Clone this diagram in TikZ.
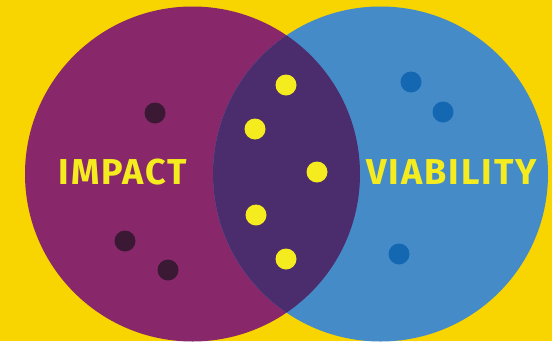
\documentclass[tikz,border=0pt]{standalone}
\usepackage{fontspec}
\setmainfont{Fira Sans}
\newfontfamily\labelfont[LetterSpace=5.5]{Fira Sans}
\definecolor{bgyellow}{HTML}{F8D400}
\definecolor{impactpurple}{HTML}{88286A}
\definecolor{overlap}{HTML}{4B2C6C}
\definecolor{viablue}{HTML}{458BC8}
\definecolor{darkdot}{HTML}{3B1934}
\definecolor{yellowdot}{HTML}{F4EC1E}
\definecolor{bluedot}{HTML}{1467B1}
\begin{document}
\begin{tikzpicture}[x=1pt,y=-1pt,
    dot/.style={circle,inner sep=0pt,minimum size=21pt},
    label/.style={text=yellowdot,font=\labelfont\fontsize{36}{36}\selectfont\bfseries}]
            \useasboundingbox (0,0) rectangle (552,341);
            \clip (0,0) rectangle (552,341);
            \fill [bgyellow] (0,0) rectangle (552,341);
            \pgfmathsetmacro{\r}{167.5};
            \fill [impactpurple] (192.5,174) circle (\r);
            \fill [viablue] (380.5,174) circle (\r);
            \begin{scope}
                \clip (192.5,174) circle (\r);
                \fill [overlap] (380.5,174) circle (\r);
            \end{scope}
            \node [dot,fill=darkdot] (d1) at (155,113) {};
            \node [dot,fill=darkdot] (d2) at (125,241) {};
            \node [dot,fill=darkdot] (d3) at (168,270) {};
            \node [dot,fill=yellowdot] (y1) at (286,85) {};
            \node [dot,fill=yellowdot] (y2) at (255,129) {};
            \node [dot,fill=yellowdot] (y3) at (317,172) {};
            \node [dot,fill=yellowdot] (y4) at (256,215) {};
            \node [dot,fill=yellowdot] (y5) at (286,259) {};
            \node [dot,fill=bluedot] (b1) at (411,82) {};
            \node [dot,fill=bluedot] (b2) at (443,112) {};
            \node [dot,fill=bluedot] (b3) at (399,254) {};
            \node [label] (impact) at (123,172) {IMPACT};
            \node [label] (viability) at (451.5,172) {VIABILITY};
        \end{tikzpicture}
\end{document}
